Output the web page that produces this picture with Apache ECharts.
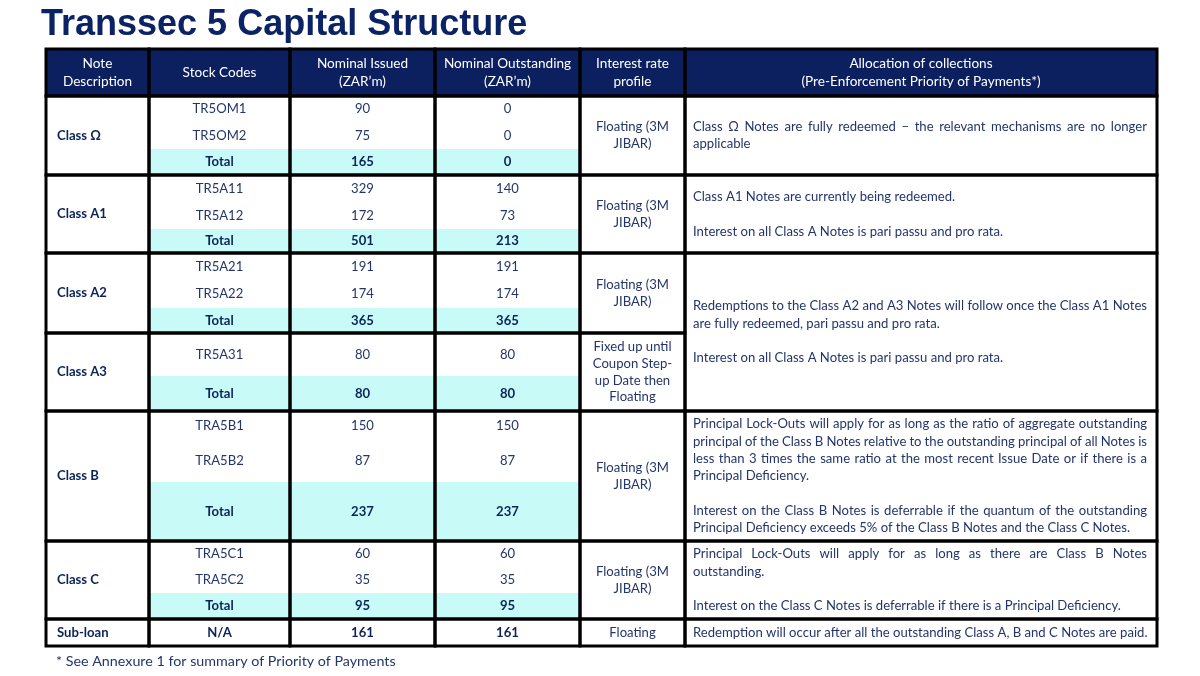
<!DOCTYPE html>
<html>
<head>
<meta charset="utf-8">
<title>Transsec 5 Capital Structure</title>
<script src="https://cdn.jsdelivr.net/npm/echarts@6/dist/echarts.min.js"></script>
<style>
html, body { margin: 0; padding: 0; background: #fff; }
#chart { width: 1200px; height: 676px; }
</style>
</head>
<body>
<div id="chart"></div>
<script>
// ---- table content ----
const headers = [
  'Note\nDescription',
  'Stock Codes',
  'Nominal Issued\n(ZAR\u2019m)',
  'Nominal Outstanding\n(ZAR\u2019m)',
  'Interest rate\nprofile',
  'Allocation of collections\n(Pre-Enforcement Priority of Payments*)'
];
const classNames = ['Class \u03A9', 'Class A1', 'Class A2', 'Class A3', 'Class B', 'Class C', 'Sub-loan'];
const stockCodes = [
  ['TR5OM1', 'TR5OM2'],
  ['TR5A11', 'TR5A12'],
  ['TR5A21', 'TR5A22'],
  ['TR5A31'],
  ['TRA5B1', 'TRA5B2'],
  ['TRA5C1', 'TRA5C2'],
  ['N/A']
];
const nominalIssued = [[90, 75], [329, 172], [191, 174], [80], [150, 87], [60, 35], [161]];
const nominalOutstanding = [[0, 0], [140, 73], [191, 174], [80], [150, 87], [60, 35], [161]];
const totalIssued = [165, 501, 365, 80, 237, 95, null];
const totalOutstanding = [0, 213, 365, 80, 237, 95, null];
const rateProfiles = [
  'Floating (3M\nJIBAR)',
  'Floating (3M\nJIBAR)',
  'Floating (3M\nJIBAR)',
  'Fixed up until\nCoupon Step-\nup Date then\nFloating',
  'Floating (3M\nJIBAR)',
  'Floating (3M\nJIBAR)',
  'Floating'
];
const allocations = [
  'Class \u03A9 Notes are fully redeemed \u2013 the relevant mechanisms are no longer\napplicable',
  'Class A1 Notes are currently being redeemed.\n\nInterest on all Class A Notes is pari passu and pro rata.',
  'Redemptions to the Class A2 and A3 Notes will follow once the Class A1 Notes\nare fully redeemed, pari passu and pro rata.\n\nInterest on all Class A Notes is pari passu and pro rata.',
  null, // shares the cell above
  'Principal Lock-Outs will apply for as long as the ratio of aggregate outstanding\nprincipal of the Class B Notes relative to the outstanding principal of all Notes is\nless than 3 times the same ratio at the most recent Issue Date or if there is a\nPrincipal Deficiency.\n\nInterest on the Class B Notes is deferrable if the quantum of the outstanding\nPrincipal Deficiency exceeds 5% of the Class B Notes and the Class C Notes.',
  'Principal Lock-Outs will apply for as long as there are Class B Notes\noutstanding.\n\nInterest on the Class C Notes is deferrable if there is a Principal Deficiency.',
  'Redemption will occur after all the outstanding Class A, B and C Notes are paid.'
];
const allocationSpan = [1, 1, 2, 0, 1, 1, 1];
const footnote = '* See Annexure 1 for summary of Priority of Payments';

// ---- layout (table units = px inside the grid) ----
const colEdges = [0, 103, 244, 389, 534, 639, 1111];
const headerHeight = 47;
const subRowHeights = [[26, 27, 26], [27, 27, 24], [27, 28, 25], [43, 35], [29, 42, 59], [26, 26, 26], [27]];

const NAVY = '#0c1f5e';
const TEXT = '#23356a';
const BOLD_TEXT = '#0b2358';
const CYAN = '#c8fbf8';
const FONT = 'Lato';
const FS = 13.1;
const HEADER_FS = 13.6;

// build cells: value = [x0, x1, y0, y1], plus display info
const cells = [];
const frames = [];
function addCell(c0, c1, y0, y1, info) {
  cells.push(Object.assign({ value: [colEdges[c0], colEdges[c1], y0, y1] }, info));
}
function addFrame(c0, c1, y0, y1) {
  frames.push({ value: [colEdges[c0], colEdges[c1], y0, y1] });
}

headers.forEach(function (h, i) {
  addCell(i, i + 1, 0, headerHeight, { text: h, fill: NAVY, color: '#fff', align: 'center', lh: 18, fs: HEADER_FS });
  addFrame(i, i + 1, 0, headerHeight);
});

const groupTops = [];
let y = headerHeight;
classNames.forEach(function (name, g) {
  const heights = subRowHeights[g];
  const top = y;
  groupTops.push(top);
  const bottom = top + heights.reduce(function (a, b) { return a + b; }, 0);
  const isSub = totalIssued[g] === null;
  addCell(0, 1, top, bottom, { text: name, align: 'left', bold: true, color: BOLD_TEXT });
  let ry = top;
  stockCodes[g].forEach(function (code, k) {
    const h = heights[k];
    addCell(1, 2, ry, ry + h, { text: code, align: 'center', bold: isSub });
    addCell(2, 3, ry, ry + h, { text: String(nominalIssued[g][k]), align: 'center', bold: isSub });
    addCell(3, 4, ry, ry + h, { text: String(nominalOutstanding[g][k]), align: 'center', bold: isSub });
    ry += h;
  });
  if (!isSub) {
    const h = heights[heights.length - 1];
    addCell(1, 2, ry, ry + h, { text: 'Total', align: 'center', bold: true, fill: CYAN });
    addCell(2, 3, ry, ry + h, { text: String(totalIssued[g]), align: 'center', bold: true, fill: CYAN });
    addCell(3, 4, ry, ry + h, { text: String(totalOutstanding[g]), align: 'center', bold: true, fill: CYAN });
  }
  addCell(4, 5, top, bottom, { text: rateProfiles[g], align: 'center', lh: 16.7 });
  for (let c = 0; c < 5; c++) addFrame(c, c + 1, top, bottom);
  y = bottom;
});
groupTops.push(y);

allocations.forEach(function (text, g) {
  if (!allocationSpan[g]) return;
  const top = groupTops[g];
  const bottom = groupTops[g + allocationSpan[g]];
  addCell(5, 6, top, bottom, { text: text, align: 'justify', lh: 17.3 });
  addFrame(5, 6, top, bottom);
});

// text measuring for justified paragraphs
const measureCtx = document.createElement('canvas').getContext('2d');
function textWidth(s, font) {
  measureCtx.font = font;
  return measureCtx.measureText(s).width;
}

function renderCell(params, api) {
  const cell = cells[params.dataIndex];
  const p0 = api.coord([api.value(0), api.value(2)]);
  const p1 = api.coord([api.value(1), api.value(3)]);
  const children = [];
  if (cell.fill) {
    children.push({ type: 'rect', shape: { x: p0[0], y: p0[1], width: p1[0] - p0[0], height: p1[1] - p0[1] }, style: { fill: cell.fill } });
  }
  const weight = cell.bold ? 'bold' : 'normal';
  const color = cell.color || (cell.bold ? BOLD_TEXT : TEXT);
  const lh = cell.lh || 17;
  const fs = cell.fs || FS;
  const cy = (p0[1] + p1[1]) / 2;
  if (cell.align === 'justify') {
    const font = weight + ' ' + fs + 'px ' + FONT;
    const lines = cell.text.split('\n');
    const left = p0[0] + 8;
    const right = p1[0] - 10;
    const top = cy - lines.length * lh / 2;
    lines.forEach(function (line, i) {
      const ly = top + i * lh + lh / 2;
      const next = lines[i + 1];
      const justify = next !== undefined && next !== '';
      const words = line.split(' ');
      if (justify && words.length > 1) {
        const wsum = words.reduce(function (a, w) { return a + textWidth(w, font); }, 0);
        const gap = (right - left - wsum) / (words.length - 1);
        let x = left;
        words.forEach(function (w) {
          children.push({ type: 'text', style: { text: w, x: x, y: ly, align: 'left', verticalAlign: 'middle', fontFamily: FONT, fontSize: fs, fontWeight: weight, fill: color } });
          x += textWidth(w, font) + gap;
        });
      } else if (line) {
        children.push({ type: 'text', style: { text: line, x: left, y: ly, align: 'left', verticalAlign: 'middle', fontFamily: FONT, fontSize: fs, fontWeight: weight, fill: color } });
      }
    });
  } else {
    const x = cell.align === 'left' ? p0[0] + 11 : (p0[0] + p1[0]) / 2;
    children.push({
      type: 'text',
      style: {
        text: cell.text, x: x, y: cy, align: cell.align, verticalAlign: 'middle',
        fontFamily: FONT, fontSize: fs, fontWeight: weight, fill: color, lineHeight: lh
      }
    });
  }
  return { type: 'group', children: children };
}

function renderFrame(params, api) {
  const p0 = api.coord([api.value(0), api.value(2)]);
  const p1 = api.coord([api.value(1), api.value(3)]);
  return {
    type: 'rect',
    shape: { x: p0[0], y: p0[1], width: p1[0] - p0[0], height: p1[1] - p0[1] },
    style: { fill: 'none', stroke: '#000', lineWidth: 3 }
  };
}

const chart = echarts.init(document.getElementById('chart'));
chart.setOption({
  animation: false,
  title: [
    {
      text: 'Transsec 5 Capital Structure',
      left: 36,
      top: 2,
      textStyle: { fontFamily: 'Liberation Sans', fontWeight: 'bold', fontSize: 36, color: '#0b2265' }
    },
    {
      text: footnote,
      left: 51,
      top: 649,
      textStyle: { fontFamily: FONT, fontWeight: 'normal', fontSize: 14.3, color: TEXT }
    }
  ],
  grid: { left: 46, top: 49, width: 1111, height: 597, containLabel: false },
  xAxis: { type: 'value', min: 0, max: colEdges[colEdges.length - 1], show: false },
  yAxis: { type: 'value', min: 0, max: y, inverse: true, show: false },
  series: [
    { name: 'cells', type: 'custom', renderItem: renderCell, data: cells, z: 2, silent: true },
    { name: 'frames', type: 'custom', renderItem: renderFrame, data: frames, z: 3, silent: true }
  ]
});
</script>
</body>
</html>
